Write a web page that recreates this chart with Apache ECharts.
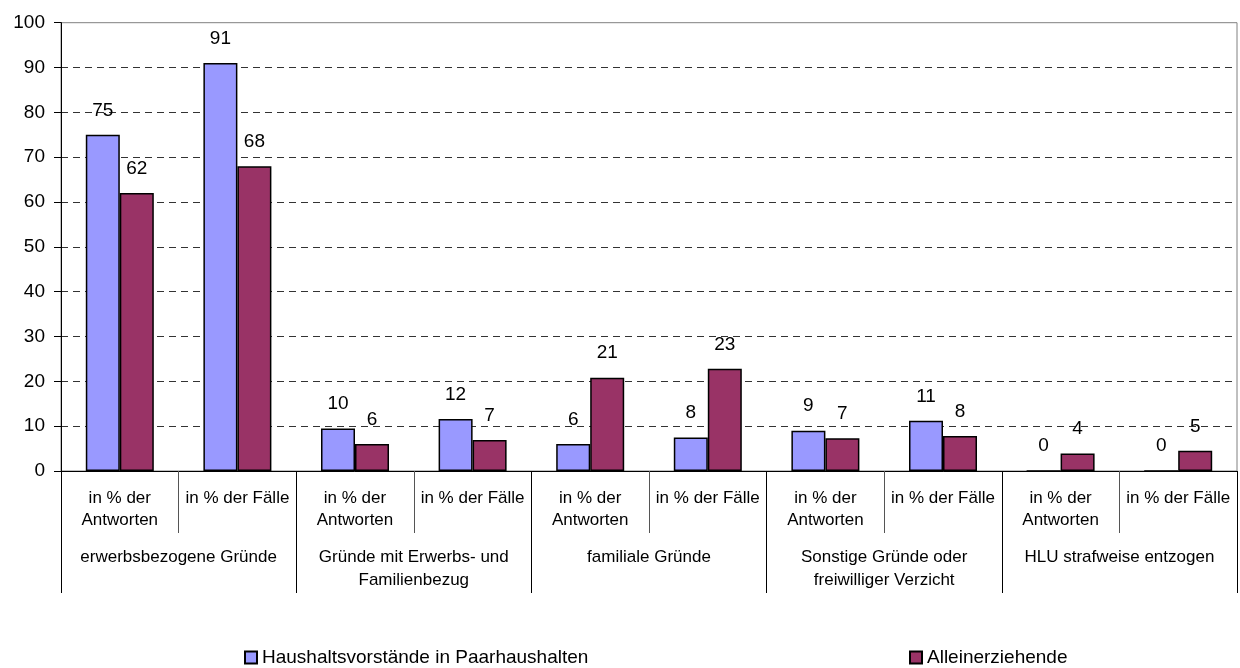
<!DOCTYPE html>
<html>
<head>
<meta charset="utf-8">
<title>Gründe</title>
<script src="https://cdn.jsdelivr.net/npm/echarts@6/dist/echarts.min.js"></script>
<style>
  html, body { margin: 0; padding: 0; background: #fff; }
  #chart { width: 1240px; height: 668px; }
</style>
</head>
<body>
<div id="chart"></div>
<script>
// sub categories (level 1) and groups (level 2)
const subLabels = [
  'in % der\nAntworten', 'in % der Fälle',
  'in % der\nAntworten', 'in % der Fälle',
  'in % der\nAntworten', 'in % der Fälle',
  'in % der\nAntworten', 'in % der Fälle',
  'in % der\nAntworten', 'in % der Fälle'
]
const groupLabels = [
  'erwerbsbezogene Gründe',
  'Gründe mit Erwerbs- und\nFamilienbezug',
  'familiale Gründe',
  'Sonstige Gründe oder\nfreiwilliger Verzicht',
  'HLU strafweise entzogen'
]
const paarValues = [75, 91, 9.5, 11.6, 6.0, 7.5, 9.0, 11.2, 0, 0]
const alleinValues = [62, 68, 6.0, 6.9, 20.8, 22.8, 7.3, 7.8, 3.9, 4.5]
const yTicks = { min: 0, max: 100, interval: 10 }

const font = "'Liberation Sans', Arial, sans-serif"

const chart = echarts.init(document.getElementById('chart'))

const barLabel = {
  show: true,
  position: 'top',
  distance: 15,
  fontSize: 19,
  fontFamily: font,
  color: '#000',
  formatter: (p) => Math.round(p.value)
}

chart.setOption({
  animation: false,
  grid: {
    left: 61,
    right: 3,
    top: 22.7,
    bottom: 197,
    show: true,
    borderColor: '#808080',
    borderWidth: 1
  },
  legend: [
    {
      data: ['Haushaltsvorstände in Paarhaushalten'],
      left: 239,
      top: 643,
      icon: 'rect',
      itemWidth: 12,
      itemHeight: 12,
      textStyle: { fontSize: 19, fontFamily: font, color: '#000' }
    },
    {
      data: ['Alleinerziehende'],
      left: 904,
      top: 643,
      icon: 'rect',
      itemWidth: 12,
      itemHeight: 12,
      textStyle: { fontSize: 19, fontFamily: font, color: '#000' }
    }
  ],
  xAxis: [
    {
      type: 'category',
      data: subLabels,
      position: 'bottom',
      axisLine: { show: true, lineStyle: { color: '#000', width: 1 } },
      axisTick: { show: true, interval: 0, length: 62, lineStyle: { color: '#555' } },
      axisLabel: {
        interval: 0,
        margin: 16,
        fontSize: 17,
        lineHeight: 22,
        fontFamily: font,
        color: '#000'
      },
      splitLine: { show: false }
    },
    {
      type: 'category',
      data: groupLabels,
      position: 'bottom',
      axisLine: { show: false },
      axisTick: { show: true, interval: 0, length: 122, lineStyle: { color: '#000' } },
      axisLabel: {
        interval: 0,
        margin: 75,
        fontSize: 17,
        lineHeight: 23,
        fontFamily: font,
        color: '#000'
      },
      splitLine: { show: false }
    }
  ],
  yAxis: {
    type: 'value',
    min: yTicks.min,
    max: yTicks.max,
    interval: yTicks.interval,
    axisLine: { show: true, lineStyle: { color: '#000', width: 1 } },
    axisTick: { show: true, length: 7, lineStyle: { color: '#000' } },
    axisLabel: { margin: 16, fontSize: 19, fontFamily: font, color: '#000' },
    splitLine: {
      show: true,
      showMinLine: false,
      showMaxLine: false,
      lineStyle: { color: '#333', width: 1, type: [7, 5] }
    }
  },
  series: [
    {
      name: 'Haushaltsvorstände in Paarhaushalten',
      type: 'bar',
      xAxisIndex: 0,
      data: paarValues,
      barWidth: 34,
      barGap: '0%',
      itemStyle: { color: '#9999FF', borderColor: '#000', borderWidth: 1.5 },
      label: barLabel
    },
    {
      name: 'Alleinerziehende',
      type: 'bar',
      xAxisIndex: 0,
      data: alleinValues,
      barWidth: 34,
      barGap: '0%',
      itemStyle: { color: '#993366', borderColor: '#000', borderWidth: 1.5 },
      label: barLabel
    }
  ]
})
</script>
</body>
</html>
